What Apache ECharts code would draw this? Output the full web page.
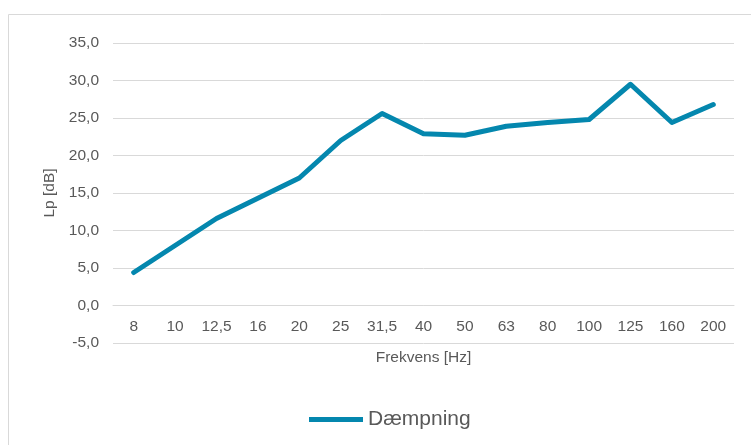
<!DOCTYPE html>
<html>
<head>
<meta charset="utf-8">
<script src="https://cdn.jsdelivr.net/npm/echarts@6/dist/echarts.min.js"></script>
<style>
html,body{margin:0;padding:0;background:#fff;}
#c{width:751px;height:445px;}
</style>
</head>
<body>
<div id="c"></div>
<script>
var categories = ['8','10','12,5','16','20','25','31,5','40','50','63','80','100','125','160','200'];
var daempning = [4.4, 8.0, 11.6, 14.3, 17.0, 22.0, 25.6, 22.9, 22.7, 23.9, 24.4, 24.8, 29.5, 24.4, 26.8];
var seriesName = 'Dæmpning';
var xName = 'Frekvens [Hz]';
var yName = 'Lp [dB]';

var chart = echarts.init(document.getElementById('c'), null, {renderer:'canvas'});
var txt = '#595959';
var font = 'Liberation Sans, Arial, sans-serif';
var fs = 15.5;
chart.setOption({
  animation:false,
  textStyle:{fontFamily:font},
  graphic:[{type:'rect',shape:{x:8.5,y:14.5,width:800,height:500},style:{fill:'none',stroke:'#d9d9d9',lineWidth:1},silent:true,z:-1}],
  grid:{left:113,right:17,top:43,bottom:102},
  legend:{
    bottom:10,left:304,
    itemWidth:54,itemHeight:12,itemGap:10,
    textStyle:{color:txt,fontSize:21,fontFamily:font},
    data:[{name:seriesName,icon:'path://M0,0 L54,0 L54,5 L0,5 Z'}],
    itemStyle:{color:'#0487ae'}
  },
  xAxis:{
    type:'category',data:categories,boundaryGap:true,
    offset:-37.5,
    axisLine:{show:true,onZero:false,lineStyle:{color:'#d9d9d9',width:1}},axisTick:{show:false},
    axisLabel:{color:txt,fontSize:fs,margin:13,interval:0,fontFamily:font},
    name:xName,nameLocation:'middle',nameGap:44,
    nameTextStyle:{color:txt,fontSize:fs,fontFamily:font}
  },
  yAxis:{
    type:'value',min:-5,max:35,interval:5,
    axisLine:{show:false},axisTick:{show:false},
    axisLabel:{color:txt,fontSize:fs,margin:14,fontFamily:font,
      formatter:function(v){return v.toFixed(1).replace('.',',');}},
    splitLine:{lineStyle:{color:'#d9d9d9',width:1}},
    name:yName,nameLocation:'middle',nameGap:53,
    nameTextStyle:{color:txt,fontSize:fs,fontFamily:font}
  },
  series:[{
    name:seriesName,type:'line',data:daempning,
    showSymbol:false,symbol:'none',
    lineStyle:{color:'#0487ae',width:5,cap:'round',join:'round'},
    itemStyle:{color:'#0487ae'}
  }]
});
</script>
</body>
</html>
